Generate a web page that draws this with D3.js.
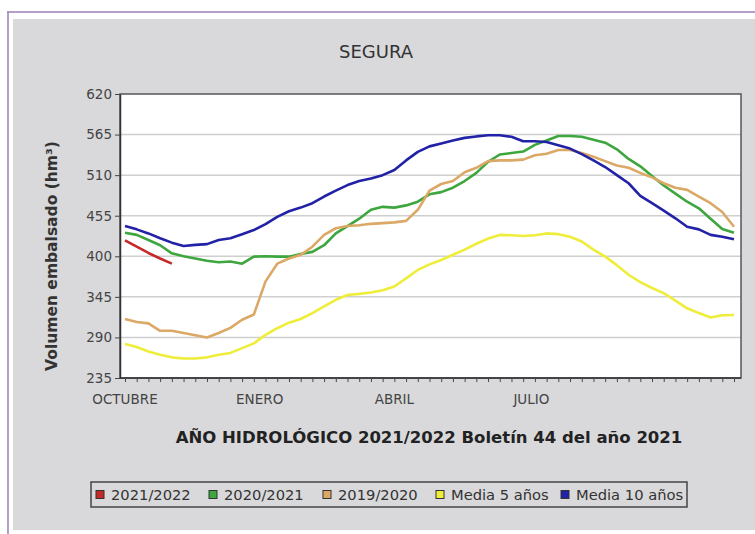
<!DOCTYPE html>
<html>
<head>
<meta charset="utf-8">
<script src="https://cdn.jsdelivr.net/npm/d3@7"></script>
<style>
  body { margin: 0; background: #fff; }
  svg { display: block; font-family: "DejaVu Sans", sans-serif; }
</style>
</head>
<body>
<div id="chart"></div>
<script>
// weekly values, hydrological year (week 0 = start of October)
var weeks = d3.range(53);
var yTicks = [235, 290, 345, 400, 455, 510, 565, 620];
var monthLabels = ["OCTUBRE", "ENERO", "ABRIL", "JULIO"];
var monthWeeks = [0, 11.5, 23, 34.7];

var s2122 = [421.5, 413, 404.5, 397, 390];
var s2021 = [432, 429, 422, 415, 404, 400, 397, 394, 392, 393, 390, 399.5, 400, 399.5, 399.5, 403, 406, 415, 431, 441,
             451, 463, 467, 466, 469, 474, 484, 487, 493, 502, 513, 528, 538, 540, 542, 551, 557, 563, 563, 562,
             558, 554, 545, 532, 522, 509, 496, 485, 474, 465, 451, 437, 432];
var s1920 = [315, 311, 309, 299, 299, 296, 293, 290, 296, 303, 314, 321, 366, 390, 397, 402, 413, 429, 438,
             441, 442, 444, 445, 446, 448, 463, 489, 498, 502, 514, 520, 529, 530, 530, 531, 537, 539, 544, 544,
             540, 535, 529, 523, 520, 513, 507, 499, 493, 490, 481, 472, 460, 440];
var media5 = [281, 277, 271, 266.5, 263, 261.5, 261.5, 263, 266.5, 269, 275.5, 282, 293.5, 302.5, 310, 315, 323, 332, 341, 347.5,
              349, 351, 354, 359, 370, 381.5, 389, 395, 402, 409, 417, 424, 429, 428.5, 427.5, 428.5, 431, 430, 426.5, 420,
              409, 399.5, 388, 375, 365, 357, 350, 340, 329.5, 323, 317, 320, 320.5];
var media10 = [441, 436.5, 431, 424.5, 418.5, 414, 415.5, 416.5, 422, 424.5, 430, 435.5, 443.5, 453.5, 461, 466, 472, 481, 489, 496.5,
               502, 505.5, 510, 517, 530, 541.5, 549, 553, 557, 560.5, 562.5, 564, 564, 562, 556, 556, 555, 550.5, 546, 538.5,
               530, 521, 510, 499, 482, 472, 462, 451.5, 440, 436.5, 429, 426.5, 423];

var seriesNames = ["2021/2022", "2020/2021", "2019/2020", "Media 5 años", "Media 10 años"];
var seriesColors = ["#c42a2a", "#3ea63e", "#dba866", "#eeee3a", "#2222a6"];
var seriesData = [s2122, s2021, s1920, media5, media10];

var W = 755, H = 534;
var plot = { left: 120, right: 741, top: 94, bottom: 378 };

var svg = d3.select("#chart").append("svg").attr("width", W).attr("height", H);

// page frame + grey panel
svg.append("rect").attr("x", 13).attr("y", 19).attr("width", W - 13).attr("height", 511).attr("fill", "#d9d9db");
svg.append("line").attr("x1", 7).attr("x2", W).attr("y1", 12).attr("y2", 12).attr("stroke", "#9b7fb8").attr("stroke-width", 1.5);
svg.append("line").attr("x1", 8).attr("x2", 8).attr("y1", 12).attr("y2", H).attr("stroke", "#9b7fb8").attr("stroke-width", 1.5);

svg.append("text").attr("x", 376).attr("y", 58).attr("text-anchor", "middle")
  .attr("font-size", 18).attr("fill", "#333").text("SEGURA");

var x = d3.scaleLinear().domain([0, 52]).range([plot.left + 5, plot.right - 7]);
var y = d3.scaleLinear().domain([235, 620]).range([plot.bottom, plot.top]);

svg.append("rect").attr("x", plot.left).attr("y", plot.top)
  .attr("width", plot.right - plot.left).attr("height", plot.bottom - plot.top).attr("fill", "#fff");

// gridlines
svg.append("g").selectAll("line").data(yTicks.slice(1, -1)).enter().append("line")
  .attr("x1", plot.left).attr("x2", plot.right)
  .attr("y1", d => y(d)).attr("y2", d => y(d))
  .attr("stroke", "#cfcfcf").attr("stroke-width", 1.5);

// series lines
var line = d3.line().x((d, i) => x(weeks[i])).y(d => y(d));
svg.append("g").selectAll("path").data(seriesData).enter().append("path")
  .attr("d", d => line(d))
  .attr("fill", "none")
  .attr("stroke", (d, i) => seriesColors[i])
  .attr("stroke-width", 2.6)
  .attr("stroke-linejoin", "round");

// plot border
svg.append("rect").attr("x", plot.left).attr("y", plot.top)
  .attr("width", plot.right - plot.left).attr("height", plot.bottom - plot.top)
  .attr("fill", "none").attr("stroke", "#555").attr("stroke-width", 1.5);

// axes
var yAxis = svg.append("g").attr("transform", "translate(" + plot.left + ",0)")
  .call(d3.axisLeft(y).tickValues(yTicks).tickSize(5).tickPadding(3).tickSizeOuter(0));
yAxis.select(".domain").attr("stroke", "#333").attr("stroke-width", 1.5);
yAxis.selectAll("line").attr("stroke", "#444");
yAxis.selectAll("text").attr("font-size", 13.5).attr("fill", "#444").attr("font-family", "DejaVu Sans");

var xAxis = svg.append("g").attr("transform", "translate(0," + plot.bottom + ")")
  .call(d3.axisBottom(x).tickValues(weeks).tickSize(4).tickFormat("").tickSizeOuter(0));
xAxis.select(".domain").attr("stroke", "#333").attr("stroke-width", 1.5)
  .attr("d", "M" + plot.left + ",0H" + plot.right);
xAxis.selectAll("line").attr("stroke", "#444");

svg.append("g").selectAll("text").data(monthLabels).enter().append("text")
  .attr("x", (d, i) => x(monthWeeks[i])).attr("y", 404)
  .attr("text-anchor", "middle").attr("font-size", 13.5).attr("fill", "#444")
  .text(d => d);

svg.append("text").attr("transform", "translate(57,256) rotate(-90)")
  .attr("text-anchor", "middle").attr("font-size", 15.5).attr("font-weight", "bold").attr("fill", "#333")
  .text("Volumen embalsado (hm³)");

svg.append("text").attr("x", 429).attr("y", 443).attr("text-anchor", "middle")
  .attr("font-size", 16.5).attr("font-weight", "bold").attr("fill", "#222")
  .text("AÑO HIDROLÓGICO 2021/2022 Boletín 44 del año 2021");

// legend
var legend = svg.append("g");
legend.append("rect").attr("x", 91).attr("y", 482).attr("width", 596).attr("height", 25)
  .attr("fill", "none").attr("stroke", "#444").attr("stroke-width", 1.5);
var legendX = [100, 213, 327, 440, 565];
var items = legend.selectAll("g.item").data(seriesNames).enter().append("g").attr("class", "item")
  .attr("transform", (d, i) => "translate(" + legendX[i] + ",494.5)");
items.append("rect").attr("x", -4).attr("y", -4).attr("width", 8).attr("height", 8)
  .attr("fill", (d, i) => seriesColors[i]).attr("stroke", "#333").attr("stroke-width", 1);
items.append("text").attr("x", 11).attr("y", 5.5).attr("font-size", 14.7).attr("fill", "#333").text(d => d);
</script>
</body>
</html>
